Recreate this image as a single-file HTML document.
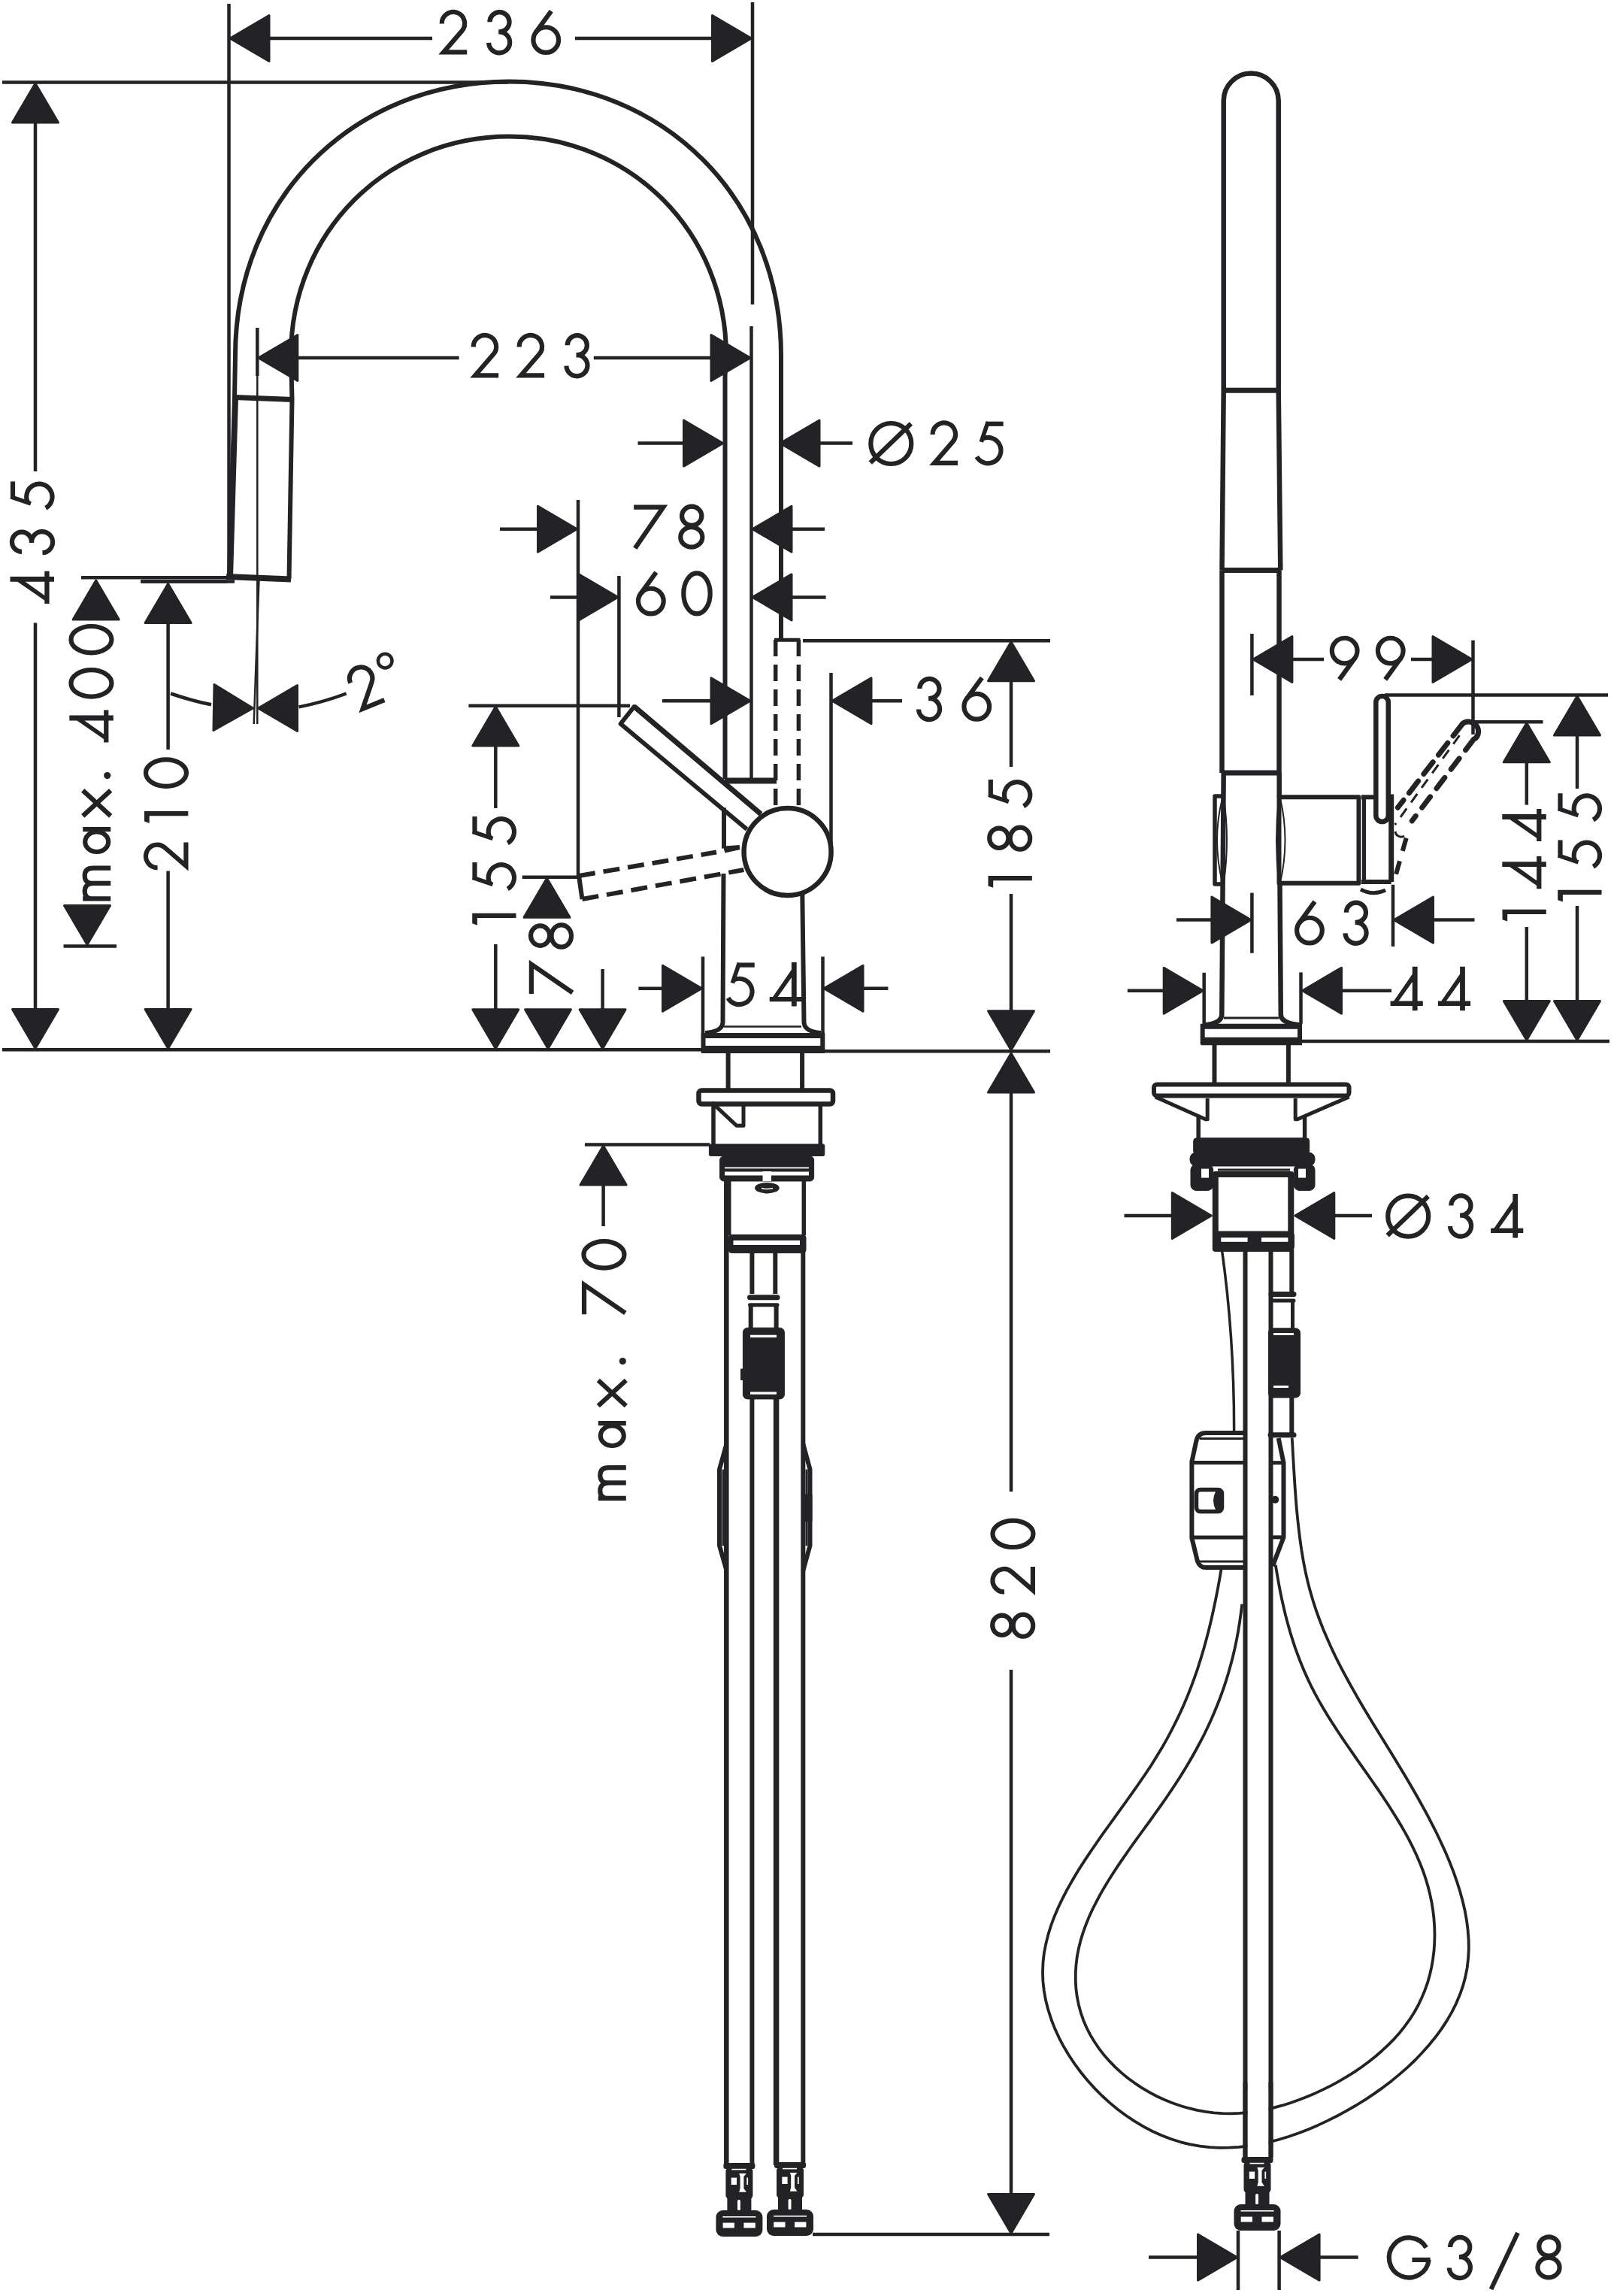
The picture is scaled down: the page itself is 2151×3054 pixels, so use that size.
<!DOCTYPE html>
<html><head><meta charset="utf-8"><style>
html,body{margin:0;padding:0;background:#fff;}
svg{display:block;}
.t{fill:#232326;stroke:#232326;stroke-width:6.2;stroke-linecap:butt;stroke-linejoin:round;}
text{font-family:"Liberation Sans",sans-serif;fill:#232326;text-anchor:middle;stroke:none;}
</style></head><body>
<svg xmlns="http://www.w3.org/2000/svg" width="2151" height="3054" viewBox="0 0 2151 3054">
<defs>
<g id="d0"><ellipse cx="20.65" cy="-29.35" rx="17.7" ry="27" fill="none"/></g>
<g id="d1"><path d="M12.75,0 V-58.3" fill="none"/><path d="M0,-51.6 L2.4,-58.3 L9.8,-58.3 L9.8,-51.6 Z" stroke="none"/></g>
<g id="d2"><path d="M4.15,-40.75 A15.2,15.2 0 1 1 30.67,-30.96 L6.46,-2.9 L37.6,-2.9" fill="none" stroke-linejoin="miter"/></g>
<g id="d3"><path d="M5.1,-43 A13.1,13.1 0 1 1 18.2,-29.9 L16.9,-29.9 M16.9,-30 L17.85,-30 A14.05,14.05 0 1 1 3.8,-15.5" fill="none"/></g>
<g id="d4"><path d="M29.2,-58.5 H36 V0 H29.2 Z M0,-12.7 H43.2 V-6.4 H0 Z M36,-58.5 L29.2,-38.4 L11,-12.7 L0,-6.4 Z" stroke="none"/></g>
<g id="d5"><path d="M15.6,-55 H38.7" fill="none"/><path d="M18.3,-57.6 L9.3,-31" fill="none" stroke-width="5.6"/><path d="M10.83,-35.06 A17.15,17.15 0 1 1 3.41,-11.23" fill="none"/></g>
<g id="d6"><circle cx="20.1" cy="-19.2" r="16.85" fill="none"/><path d="M27.1,-57.5 L6.3,-28.9" fill="none"/></g>
<g id="d9"><circle cx="20.4" cy="-39.9" r="16.85" fill="none"/><path d="M13.4,-1.6 L34.2,-30.2" fill="none"/></g>
<g id="d7"><path d="M1,-55.75 L40.2,-55.75 L2.6,-1" fill="none" stroke-linejoin="miter"/></g>
<g id="d8"><ellipse cx="18" cy="-44" rx="13.2" ry="12.6" fill="none"/><ellipse cx="17.6" cy="-15.85" rx="14.55" ry="13.25" fill="none"/></g>
<g id="dOs"><circle cx="30" cy="-28.8" r="27" fill="none"/><path d="M2.5,-3.3 L56.6,-55.2" fill="none"/></g>
<g id="dG"><path d="M52.18,-42.37 A26.5,26.5 0 1 0 55.65,-26.23" fill="none"/><path d="M57.6,-26.1 H33.4" fill="none"/></g>
<g id="lm"><path d="M3,0 V-37 M3,-23 C3,-32 7,-34.5 13.2,-34.5 C19.5,-34.5 23.5,-31 23.5,-23 V0 M23.5,-23 C23.5,-32 27.5,-34.5 33.7,-34.5 C40,-34.5 43.9,-31 43.9,-23 V0" fill="none"/></g>
<g id="la"><ellipse cx="16.3" cy="-18.5" rx="13.3" ry="15.5" fill="none"/><path d="M32.8,-37 V0" fill="none"/></g>
<g id="lx"><path d="M1.5,-37 L35.5,0 M35.5,-37 L1.5,0" fill="none"/></g>
<g id="ldot"><circle cx="4.5" cy="-4.5" r="4.6" stroke="none"/></g>
<path id="ar" d="M-1.5,0 L-53.5,-30.5 L-53.5,30.5 Z" fill="#232326" stroke="#232326" stroke-width="3" stroke-linejoin="round"/>
<g id="fit" stroke="none">
<rect x="-21" y="0" width="42" height="8" rx="3" fill="#232326"/>
<rect x="-18" y="6" width="36" height="42" rx="5" fill="#232326"/>
<rect x="-10" y="7.8" width="19" height="1.6" fill="#fff"/>
<rect x="-10.7" y="19.6" width="7.3" height="9.4" fill="#fff"/>
<path d="M-0.2,14 L9.5,14 L6,18 L6,34 L9.5,38.8 L-0.2,38.8 L1.2,34 L1.2,18 Z" fill="#fff"/>
<rect x="9.9" y="19.6" width="1.8" height="9.4" fill="#fff"/>
<rect x="-16" y="46" width="32" height="19" fill="#232326"/>
<rect x="-2.4" y="49" width="3.9" height="14" rx="1.5" fill="#fff"/>
<rect x="-31" y="63" width="62" height="35" rx="9" fill="#232326"/>
<rect x="-21.8" y="79.6" width="15.3" height="6.9" fill="#fff"/>
<rect x="6" y="79.6" width="15.4" height="6.9" fill="#fff"/>
<rect x="-22" y="71" width="44" height="1.6" fill="#fff"/>
</g>
</defs>
<rect width="2151" height="3054" fill="#fff"/>
<g stroke="#232326" fill="none" stroke-linecap="butt" stroke-linejoin="round">
<line x1="3" y1="1396.3" x2="933" y2="1396.3" stroke-width="4.5" />
<line x1="1097" y1="1398.3" x2="1397" y2="1398.3" stroke-width="4.5" />
<line x1="3" y1="109.5" x2="676" y2="109.5" stroke-width="4.5" />
<line x1="304.5" y1="5" x2="304.5" y2="766" stroke-width="4.5" />
<line x1="1001" y1="3" x2="1001" y2="405" stroke-width="4.5" />
<use href="#ar" transform="translate(304.5,51) rotate(180)"/>
<use href="#ar" transform="translate(1001,51) rotate(0)"/>
<line x1="357" y1="51" x2="575" y2="51" stroke-width="4.5" />
<line x1="765" y1="51" x2="949" y2="51" stroke-width="4.5" />
<use href="#d2" x="583.60" y="72.3" class="t"/>
<use href="#d3" x="646.30" y="72.3" class="t"/>
<use href="#d6" x="706.15" y="72.3" class="t"/>
<use href="#ar" transform="translate(47,109.5) rotate(-90)"/>
<use href="#ar" transform="translate(47,1396) rotate(90)"/>
<line x1="47" y1="162" x2="47" y2="627" stroke-width="4.5" />
<line x1="47" y1="828.6" x2="47" y2="1343" stroke-width="4.5" />
<g transform="rotate(-90)"><use href="#d4" x="-803.00" y="72" class="t"/><use href="#d3" x="-739.00" y="72" class="t"/><use href="#d5" x="-679.15" y="72" class="t"/></g>
<line x1="108" y1="768.3" x2="302" y2="768.3" stroke-width="4.5" />
<use href="#ar" transform="translate(127.7,770.6) rotate(-90)"/>
<g transform="rotate(-90)"><use href="#lm" x="-1198.45" y="147.2" class="t"/><use href="#la" x="-1136.00" y="147.2" class="t"/><use href="#lx" x="-1086.90" y="147.2" class="t"/><use href="#ldot" x="-1036.10" y="147.2" class="t"/></g>
<g transform="rotate(-90)"><use href="#d4" x="-987.60" y="150.8" class="t"/><use href="#d0" x="-929.55" y="150.8" class="t"/><use href="#d0" x="-871.35" y="150.8" class="t"/></g>
<use href="#ar" transform="translate(116,1258) rotate(90)"/>
<line x1="84.5" y1="1258.5" x2="155" y2="1258.5" stroke-width="4.5" />
<line x1="187" y1="773.5" x2="312" y2="773.5" stroke-width="4.5" />
<use href="#ar" transform="translate(223.6,775) rotate(-90)"/>
<use href="#ar" transform="translate(223.6,1396) rotate(90)"/>
<line x1="223.6" y1="826" x2="223.6" y2="997" stroke-width="4.5" />
<line x1="223.6" y1="1158.5" x2="223.6" y2="1343" stroke-width="4.5" />
<g transform="rotate(-90)"><use href="#d2" x="-1158.20" y="250.3" class="t"/><use href="#d1" x="-1094.90" y="250.3" class="t"/><use href="#d0" x="-1048.75" y="250.3" class="t"/></g>
<path d="M227,922.5 Q255,932 281,937.3" stroke-width="4.5" fill="none" />
<path d="M397.6,940.4 Q430,934 460.7,922.5" stroke-width="4.5" fill="none" />
<use href="#ar" transform="translate(338,942) rotate(1)"/>
<use href="#ar" transform="translate(342,942) rotate(180)"/>
<line x1="342.3" y1="436" x2="342.3" y2="963" stroke-width="2.5" />
<line x1="344.5" y1="770" x2="337.7" y2="963" stroke-width="2.5" />
<g transform="translate(484,913.5) rotate(-22) translate(-18.8,29.5)"><use href="#d2" class="t"/></g>
<circle cx="512.2" cy="879.1" r="9.3" stroke-width="4.5"/>
<line x1="342.3" y1="436" x2="342.3" y2="500" stroke-width="4.5" />
<use href="#ar" transform="translate(342.3,476) rotate(180)"/>
<use href="#ar" transform="translate(999.5,476) rotate(0)"/>
<line x1="394.7" y1="476" x2="610.6" y2="476" stroke-width="4.5" />
<line x1="789.8" y1="476" x2="947" y2="476" stroke-width="4.5" />
<use href="#d2" x="625.60" y="502.2" class="t"/>
<use href="#d2" x="686.50" y="502.2" class="t"/>
<use href="#d3" x="749.60" y="502.2" class="t"/>
<line x1="999.5" y1="434" x2="999.5" y2="1036" stroke-width="4.5" />
<use href="#ar" transform="translate(963,589.6) rotate(0)"/>
<use href="#ar" transform="translate(1036.5,589.6) rotate(180)"/>
<line x1="848.5" y1="589.6" x2="911" y2="589.6" stroke-width="4.5" />
<line x1="1088" y1="589.6" x2="1134" y2="589.6" stroke-width="4.5" />
<use href="#dOs" x="1155.30" y="618.8" class="t"/>
<use href="#d2" x="1236.50" y="618.8" class="t"/>
<use href="#d5" x="1295.95" y="618.8" class="t"/>
<line x1="769" y1="665" x2="769" y2="1165" stroke-width="4.5" />
<use href="#ar" transform="translate(769,703.8) rotate(0)"/>
<use href="#ar" transform="translate(999.5,703.8) rotate(180)"/>
<line x1="665" y1="703.8" x2="716" y2="703.8" stroke-width="4.5" />
<line x1="1051" y1="703.8" x2="1097" y2="703.8" stroke-width="4.5" />
<use href="#d7" x="842.15" y="730.3" class="t"/>
<use href="#d8" x="902.20" y="730.3" class="t"/>
<line x1="823.4" y1="766" x2="823.4" y2="954" stroke-width="4.5" />
<use href="#ar" transform="translate(823.4,794.4) rotate(0)"/>
<use href="#ar" transform="translate(999.5,794.4) rotate(180)"/>
<line x1="732" y1="794.4" x2="770" y2="794.4" stroke-width="4.5" />
<line x1="1052" y1="794.4" x2="1098.6" y2="794.4" stroke-width="4.5" />
<use href="#d6" x="845.75" y="818.8" class="t"/>
<use href="#d0" x="906.35" y="818.8" class="t"/>
<line x1="1105.5" y1="895" x2="1105.5" y2="1128" stroke-width="4.5" />
<use href="#ar" transform="translate(999.5,932.3) rotate(0)"/>
<use href="#ar" transform="translate(1105.5,932.3) rotate(180)"/>
<line x1="881" y1="932.3" x2="949" y2="932.3" stroke-width="4.5" />
<line x1="1158" y1="932.3" x2="1200" y2="932.3" stroke-width="4.5" />
<use href="#d3" x="1218.20" y="959" class="t"/>
<use href="#d6" x="1279.15" y="959" class="t"/>
<line x1="1068" y1="852.3" x2="1397" y2="852.3" stroke-width="4.5" />
<use href="#ar" transform="translate(1345,852.3) rotate(-90)"/>
<use href="#ar" transform="translate(1345,1398.3) rotate(90)"/>
<line x1="1345" y1="903.5" x2="1345" y2="1020" stroke-width="4.5" />
<line x1="1345" y1="1189" x2="1345" y2="1346" stroke-width="4.5" />
<g transform="rotate(-90)"><use href="#d1" x="-1180.80" y="1372.8" class="t"/><use href="#d8" x="-1132.80" y="1372.8" class="t"/><use href="#d5" x="-1075.65" y="1372.8" class="t"/></g>
<line x1="623.4" y1="938.8" x2="838" y2="938.8" stroke-width="4.5" />
<use href="#ar" transform="translate(659.3,938.5) rotate(-90)"/>
<use href="#ar" transform="translate(659.3,1396.3) rotate(90)"/>
<line x1="659.3" y1="990" x2="659.3" y2="1075" stroke-width="4.5" />
<line x1="659.3" y1="1256" x2="659.3" y2="1344" stroke-width="4.5" />
<g transform="rotate(-90)"><use href="#d1" x="-1230.70" y="686.5" class="t"/><use href="#d5" x="-1185.75" y="686.5" class="t"/><use href="#d5" x="-1124.75" y="686.5" class="t"/></g>
<line x1="694.7" y1="1166.8" x2="769" y2="1166.8" stroke-width="4.5" />
<use href="#ar" transform="translate(727.5,1166.8) rotate(-90)"/>
<use href="#ar" transform="translate(729,1396.3) rotate(90)"/>
<g transform="rotate(-90)"><use href="#d7" x="-1322.95" y="762.6" class="t"/><use href="#d8" x="-1262.60" y="762.6" class="t"/></g>
<line x1="778" y1="1522.6" x2="944" y2="1522.6" stroke-width="4.5" />
<use href="#ar" transform="translate(801.6,1396.3) rotate(90)"/>
<line x1="801.6" y1="1289" x2="801.6" y2="1345" stroke-width="4.5" />
<use href="#ar" transform="translate(802.6,1522.6) rotate(-90)"/>
<line x1="802.6" y1="1577" x2="802.6" y2="1631" stroke-width="4.5" />
<g transform="rotate(-90)"><use href="#lm" x="-1995.95" y="832.8" class="t"/><use href="#la" x="-1926.00" y="832.8" class="t"/><use href="#lx" x="-1871.50" y="832.8" class="t"/><use href="#ldot" x="-1815.00" y="832.8" class="t"/></g>
<g transform="rotate(-90)"><use href="#d7" x="-1749.15" y="832.8" class="t"/><use href="#d0" x="-1689.55" y="832.8" class="t"/></g>
<line x1="935" y1="1272.5" x2="935" y2="1374" stroke-width="4.5" />
<line x1="1094.5" y1="1272.5" x2="1094.5" y2="1374" stroke-width="4.5" />
<use href="#ar" transform="translate(935,1314.8) rotate(0)"/>
<use href="#ar" transform="translate(1094.5,1314.8) rotate(180)"/>
<line x1="849.4" y1="1314.8" x2="880" y2="1314.8" stroke-width="4.5" />
<line x1="1146" y1="1314.8" x2="1181.4" y2="1314.8" stroke-width="4.5" />
<use href="#d5" x="965.05" y="1338.6" class="t"/>
<use href="#d4" x="1023.70" y="1338.6" class="t"/>
<use href="#ar" transform="translate(1345,1399.5) rotate(-90)"/>
<use href="#ar" transform="translate(1345,2972) rotate(90)"/>
<line x1="1345" y1="1452" x2="1345" y2="1984" stroke-width="4.5" />
<line x1="1345" y1="2221" x2="1345" y2="2919" stroke-width="4.5" />
<line x1="1081" y1="2972" x2="1396" y2="2972" stroke-width="4.5" />
<g transform="rotate(-90)"><use href="#d8" x="-2179.80" y="1376.8" class="t"/><use href="#d2" x="-2121.60" y="1376.8" class="t"/><use href="#d0" x="-2060.95" y="1376.8" class="t"/></g>
<line x1="1730" y1="1385" x2="2141" y2="1385" stroke-width="4.5" />
<line x1="1665.4" y1="843" x2="1665.4" y2="925" stroke-width="4.5" />
<line x1="1959.5" y1="851.7" x2="1959.5" y2="977" stroke-width="4.5" />
<use href="#ar" transform="translate(1665.4,877) rotate(180)"/>
<use href="#ar" transform="translate(1959.5,877) rotate(0)"/>
<line x1="1718" y1="877" x2="1761" y2="877" stroke-width="4.5" />
<line x1="1877" y1="877" x2="1907.3" y2="877" stroke-width="4.5" />
<use href="#d9" x="1768.25" y="905.5" class="t"/>
<use href="#d9" x="1829.35" y="905.5" class="t"/>
<line x1="1842" y1="924.6" x2="2139" y2="924.6" stroke-width="4.5" />
<use href="#ar" transform="translate(2098,924.6) rotate(-90)"/>
<use href="#ar" transform="translate(2098,1385) rotate(90)"/>
<line x1="2098" y1="977" x2="2098" y2="1049" stroke-width="4.5" />
<line x1="2098" y1="1205" x2="2098" y2="1333" stroke-width="4.5" />
<g transform="rotate(-90)"><use href="#d1" x="-1199.60" y="2130.5" class="t"/><use href="#d5" x="-1156.15" y="2130.5" class="t"/><use href="#d5" x="-1093.95" y="2130.5" class="t"/></g>
<line x1="1959" y1="960.3" x2="2052.5" y2="960.3" stroke-width="4.5" />
<use href="#ar" transform="translate(2030.8,960.3) rotate(-90)"/>
<use href="#ar" transform="translate(2030.8,1385) rotate(90)"/>
<line x1="2030.8" y1="1012" x2="2030.8" y2="1070.6" stroke-width="4.5" />
<line x1="2030.8" y1="1233" x2="2030.8" y2="1333" stroke-width="4.5" />
<g transform="rotate(-90)"><use href="#d1" x="-1225.60" y="2056.8" class="t"/><use href="#d4" x="-1182.20" y="2056.8" class="t"/><use href="#d4" x="-1119.10" y="2056.8" class="t"/></g>
<line x1="1665.4" y1="1187.6" x2="1665.4" y2="1267.8" stroke-width="4.5" />
<line x1="1853" y1="1176.8" x2="1853" y2="1259" stroke-width="4.5" />
<use href="#ar" transform="translate(1665.4,1223.6) rotate(0)"/>
<use href="#ar" transform="translate(1853,1223.6) rotate(180)"/>
<line x1="1565" y1="1223.6" x2="1614" y2="1223.6" stroke-width="4.5" />
<line x1="1907" y1="1223.6" x2="1961.5" y2="1223.6" stroke-width="4.5" />
<use href="#d6" x="1721.85" y="1256.8" class="t"/>
<use href="#d3" x="1785.70" y="1256.8" class="t"/>
<line x1="1601.7" y1="1293.8" x2="1601.7" y2="1363" stroke-width="4.5" />
<use href="#ar" transform="translate(1601.7,1317.7) rotate(0)"/>
<use href="#ar" transform="translate(1731,1317.7) rotate(180)"/>
<line x1="1499.8" y1="1317.7" x2="1550" y2="1317.7" stroke-width="4.5" />
<line x1="1783" y1="1317.7" x2="1851" y2="1317.7" stroke-width="4.5" />
<use href="#d4" x="1849.60" y="1344.3" class="t"/>
<use href="#d4" x="1912.90" y="1344.3" class="t"/>
<use href="#ar" transform="translate(1612.8,1617) rotate(0)"/>
<use href="#ar" transform="translate(1721.3,1617) rotate(180)"/>
<line x1="1495.5" y1="1617" x2="1562" y2="1617" stroke-width="4.5" />
<line x1="1772" y1="1617" x2="1825" y2="1617" stroke-width="4.5" />
<use href="#dOs" x="1843.20" y="1646.5" class="t"/>
<use href="#d3" x="1925.20" y="1646.5" class="t"/>
<use href="#d4" x="1983.10" y="1646.5" class="t"/>
<line x1="1647" y1="2967" x2="1647" y2="3046" stroke-width="4.5" />
<line x1="1701.6" y1="2967" x2="1701.6" y2="3046" stroke-width="4.5" />
<use href="#ar" transform="translate(1647,3002.6) rotate(0)"/>
<use href="#ar" transform="translate(1701.6,3002.6) rotate(180)"/>
<line x1="1528" y1="3002.6" x2="1595" y2="3002.6" stroke-width="4.5" />
<line x1="1754" y1="3002.6" x2="1806.7" y2="3002.6" stroke-width="4.5" />
<use href="#dG" x="1845.00" y="3032" class="t"/>
<use href="#d3" x="1924.00" y="3032" class="t"/>
<use href="#d8" x="2042.40" y="3032" class="t"/>
<line x1="2019" y1="2970" x2="1983.5" y2="3045" stroke-width="6" />
<path d="M312,529 L313,472.5 C313,265 469.5,108.5 677,108.5 C883.3,108.5 1039,265 1039,472.5 L1039,851" stroke-width="6" fill="none" />
<path d="M388.5,531 L387,472.5 C387,309.6 514.8,181.6 677.5,181.6 C839.1,181.6 966,309.6 966,472.5" stroke-width="6" fill="none" />
<path d="M966,472.5 L964.5,500 L964.5,1036" stroke-width="6" fill="none" />
<line x1="312" y1="528.5" x2="389" y2="531.5" stroke-width="7" />
<line x1="313" y1="529" x2="306" y2="767" stroke-width="8" />
<line x1="388.5" y1="531" x2="384.5" y2="770" stroke-width="6" />
<line x1="301" y1="767" x2="387" y2="770.5" stroke-width="8" />
<line x1="188" y1="773.5" x2="302" y2="773.5" stroke-width="4.5" />
<line x1="964" y1="1038.5" x2="1033" y2="1038.5" stroke-width="8" />
<line x1="1030" y1="851.3" x2="1064.5" y2="851.3" stroke-width="5" />
<line x1="1031.7" y1="851" x2="1031.7" y2="1072" stroke-width="5.5" stroke-dasharray="22 11"/>
<line x1="1062.4" y1="851" x2="1062.4" y2="1072" stroke-width="5.5" stroke-dasharray="22 11"/>
<path d="M1012,1083 L843.5,940 L825.5,962.8 L993.5,1103" stroke-width="5.8" fill="none" />
<line x1="843.5" y1="939.6" x2="1012" y2="1082.6" stroke-width="7" />
<line x1="770" y1="1165" x2="953" y2="1133.5" stroke-width="6" stroke-dasharray="22 11"/>
<line x1="963.8" y1="1131.6" x2="983.8" y2="1127.1" stroke-width="6" />
<line x1="774.5" y1="1196" x2="989.4" y2="1157" stroke-width="6" stroke-dasharray="22 11"/>
<line x1="770" y1="1165" x2="774.5" y2="1196" stroke-width="6" />
<circle cx="1047.6" cy="1133" r="58" stroke-width="6.5" fill="#fff"/>
<path d="M1020,1081 A64,64 0 0 1 1040,1074" stroke-width="2" fill="none" />
<line x1="963" y1="1074.5" x2="963" y2="1128.6" stroke-width="6" />
<line x1="963" y1="1128.6" x2="983.8" y2="1127" stroke-width="6" />
<path d="M962.5,1162 L961.5,1360 Q961,1372 938,1374" stroke-width="6" fill="none" />
<path d="M1067.3,1189 L1069.5,1360 Q1070,1372 1092,1374" stroke-width="6" fill="none" />
<line x1="963" y1="1365.6" x2="1066" y2="1365.6" stroke-width="2.5" />
<line x1="933" y1="1377.5" x2="1097" y2="1377.5" stroke-width="7" />
<line x1="935.5" y1="1374" x2="935.5" y2="1400" stroke-width="6" />
<line x1="1094.3" y1="1374" x2="1094.3" y2="1400" stroke-width="6" />
<line x1="933" y1="1396" x2="1097" y2="1396" stroke-width="10" />
<line x1="968.6" y1="1401" x2="968.6" y2="1449" stroke-width="6" />
<line x1="1067.1" y1="1401" x2="1067.1" y2="1449" stroke-width="6" />
<rect x="929.5" y="1450.5" width="178.5" height="18" rx="4" stroke-width="6.5"/>
<line x1="949" y1="1471" x2="949" y2="1522" stroke-width="5.5" />
<line x1="1091.3" y1="1471" x2="1091.3" y2="1522" stroke-width="5.5" />
<polyline points="947,1466.6 979.7,1497.2 989,1497.2 989,1468.7" stroke-width="5" fill="none" />
<line x1="992" y1="1469.7" x2="1088" y2="1469.7" stroke-width="2" />
<rect x="943.4" y="1522" width="153.4" height="15.5" rx="2" fill="#232326"/>
<rect x="957.6" y="1538" width="125" height="33" rx="5" fill="#232326"/>
<rect x="964" y="1552.5" width="112" height="1.8" fill="#fff" stroke="none"/>
<rect x="964" y="1558.5" width="112" height="5" fill="#fff" stroke="none"/>
<rect x="1014.5" y="1558" width="11.5" height="13" fill="#fff" stroke="none"/>
<ellipse cx="1020.4" cy="1580.2" rx="16.3" ry="7.2" fill="#232326" stroke="none"/>
<path d="M1013,1580.5 Q1020,1582.5 1028,1580.5" stroke="#fff" stroke-width="1.5"/>
<line x1="968.5" y1="1571" x2="968.5" y2="1643" stroke-width="8" />
<line x1="1069.3" y1="1571" x2="1069.3" y2="1643" stroke-width="5.5" />
<rect x="969.4" y="1642.4" width="102.6" height="24.2" rx="4" fill="#232326"/>
<rect x="975.5" y="1650" width="88.5" height="6" fill="#fff" stroke="none"/>
<line x1="966.3" y1="1571" x2="966.3" y2="2880" stroke-width="6.5" />
<line x1="1068.3" y1="1666" x2="1068.3" y2="2880" stroke-width="6" />
<line x1="1000.4" y1="1666" x2="1000.4" y2="1721" stroke-width="6" />
<line x1="1031.3" y1="1666" x2="1031.3" y2="1721" stroke-width="6" />
<line x1="998.7" y1="1738" x2="998.7" y2="1767" stroke-width="6" />
<line x1="1032.6" y1="1738" x2="1032.6" y2="1767" stroke-width="6" />
<line x1="997.5" y1="1725.8" x2="1034" y2="1725.8" stroke-width="7" stroke-linecap="round"/>
<line x1="997.5" y1="1735.8" x2="1034" y2="1735.8" stroke-width="5" stroke-linecap="round"/>
<rect x="988.4" y="1766.2" width="55" height="94.7" rx="6" fill="#232326"/>
<rect x="998" y="1775.7" width="35" height="3.3" fill="#fff" stroke="none"/>
<rect x="998" y="1851.4" width="35" height="3.3" fill="#fff" stroke="none"/>
<rect x="985.5" y="1821" width="4" height="14.5" fill="#232326"/>
<line x1="1000.4" y1="1861" x2="1000.4" y2="2880" stroke-width="6" />
<line x1="1032.6" y1="1861" x2="1032.6" y2="2880" stroke-width="7.5" />
<polyline points="966.5,1920.6 957,1954.5 957,2055.8 966.5,2089.2" stroke-width="6" fill="none" />
<polyline points="1068.3,1920.6 1077.5,1954.5 1077.5,2055.8 1068.3,2089.2" stroke-width="6" fill="none" />
<line x1="962" y1="1954.5" x2="962" y2="2056" stroke-width="3" />
<line x1="1073" y1="1954.5" x2="1073" y2="2056" stroke-width="3" />
<rect x="1071" y="1988" width="9" height="35.6" fill="#232326"/>
<use href="#fit" transform="translate(983.4,2877)"/>
<use href="#fit" transform="translate(1051,2876)"/>
<path d="M1627.7,519 L1627.7,134 A36.5,36.5 0 0 1 1700.7,134 L1700.7,519" stroke-width="6.5" fill="none" />
<line x1="1627.7" y1="519.3" x2="1700.7" y2="519.3" stroke-width="7" />
<line x1="1627.7" y1="519" x2="1625.5" y2="758.5" stroke-width="6.5" />
<line x1="1700.7" y1="519" x2="1703.3" y2="758.5" stroke-width="6.5" />
<line x1="1625.5" y1="758.5" x2="1703.3" y2="758.5" stroke-width="7" />
<line x1="1625.5" y1="758.5" x2="1625.5" y2="1028" stroke-width="6.5" />
<line x1="1701.5" y1="758.5" x2="1701.5" y2="1028" stroke-width="6.5" />
<line x1="1625.5" y1="1028" x2="1701.5" y2="1028" stroke-width="7" />
<path d="M1627.7,1028 L1625.3,1350 Q1624.5,1361 1603.4,1363.5" stroke-width="6.5" fill="none" />
<line x1="1701.7" y1="1028" x2="1701.7" y2="1060" stroke-width="6.5" />
<path d="M1702.5,1175 L1703.8,1350 Q1704.5,1361 1729.2,1363.5" stroke-width="6.5" fill="none" />
<line x1="1627.9" y1="1354" x2="1701.3" y2="1354" stroke-width="3" />
<line x1="1730.5" y1="1293.4" x2="1730.5" y2="1362" stroke-width="4.5" />
<rect x="1701.5" y="1060.3" width="106" height="114.5" stroke-width="6"/>
<line x1="1814.5" y1="1060.3" x2="1814.5" y2="1173" stroke-width="5" />
<line x1="1811" y1="1060.3" x2="1830" y2="1060.3" stroke-width="6" />
<line x1="1850.7" y1="1056.5" x2="1850.7" y2="1173" stroke-width="7" />
<line x1="1811" y1="1173" x2="1850.7" y2="1173" stroke-width="6" />
<polyline points="1627.7,1059 1616,1059 1616,1176 1627.7,1176" stroke-width="5.5" fill="none" />
<path d="M1626,1062 Q1612,1117 1626,1174" stroke-width="2" fill="none" />
<path d="M1628,1062 Q1636,1117 1628,1174" stroke-width="2" fill="none" />
<path d="M1703,1062 Q1716,1117 1703,1174" stroke-width="2" fill="none" />
<path d="M1701,1062 Q1695,1117 1701,1174" stroke-width="2" fill="none" />
<rect x="1830.3" y="926" width="16.5" height="167" rx="8.2" stroke-width="6.5" fill="#fff"/>
<line x1="1945.3" y1="963" x2="1859.4" y2="1074.2" stroke-width="7" stroke-dasharray="20 12" stroke-linecap="round"/>
<line x1="1960.4" y1="983.3" x2="1878.3" y2="1091.9" stroke-width="7" stroke-dasharray="18 14" stroke-linecap="round"/>
<line x1="1941.5" y1="978.2" x2="1855.6" y2="1097" stroke-width="3" stroke-dasharray="14 10"/>
<path d="M1945,963 A13,13 0 0 1 1962,983" stroke-width="7" fill="none" />
<path d="M1870.7,1114.6 L1855,1170" stroke-width="6" fill="none" stroke-dasharray="18 14"/>
<path d="M1856,1106 A8,8 0 0 0 1868,1112" stroke-width="3" fill="none" />
<path d="M1810,1183 Q1826,1192 1843,1184" stroke-width="5" fill="none" />
<line x1="1597.4" y1="1365.2" x2="1732" y2="1365.2" stroke-width="7" />
<line x1="1599.7" y1="1362" x2="1599.7" y2="1389" stroke-width="6" />
<line x1="1729" y1="1362" x2="1729" y2="1389" stroke-width="6" />
<line x1="1597.4" y1="1385" x2="1732" y2="1385" stroke-width="10.5" />
<line x1="1615.5" y1="1390" x2="1615.5" y2="1441" stroke-width="6" />
<line x1="1713.9" y1="1390" x2="1713.9" y2="1441" stroke-width="6" />
<rect x="1535" y="1442.4" width="259.5" height="15.2" rx="4" stroke-width="6"/>
<polyline points="1536.7,1459 1603.5,1488.7 1606.2,1488.7 1606.2,1461" stroke-width="5" fill="none" />
<polyline points="1794.6,1459 1726,1488.7 1723.2,1488.7 1723.2,1461" stroke-width="5" fill="none" />
<line x1="1594.2" y1="1485" x2="1594.2" y2="1515" stroke-width="5.5" />
<line x1="1735.6" y1="1485" x2="1735.6" y2="1515" stroke-width="5.5" />
<rect x="1587.7" y="1513.8" width="154" height="21.2" rx="4" fill="#232326"/>
<rect x="1583" y="1533" width="166" height="18" rx="8" fill="#232326"/>
<rect x="1584" y="1549" width="29.7" height="34.4" rx="7" fill="#232326"/>
<rect x="1721.3" y="1549" width="27.7" height="34.4" rx="7" fill="#232326"/>
<rect x="1598" y="1554.6" width="10" height="12" fill="#fff" stroke="none"/>
<rect x="1727" y="1554.6" width="10" height="12" fill="#fff" stroke="none"/>
<line x1="1620" y1="1556" x2="1716" y2="1556" stroke-width="3" />
<rect x="1616.8" y="1562" width="100.5" height="99" stroke-width="8"/>
<rect x="1614.4" y="1638" width="107" height="25" rx="5" fill="#232326"/>
<rect x="1624.3" y="1646.2" width="35.3" height="5.6" fill="#fff" stroke="none"/>
<rect x="1678" y="1646.2" width="35.4" height="5.6" fill="#fff" stroke="none"/>
<line x1="1656.5" y1="1663" x2="1656.5" y2="2870" stroke-width="6" />
<line x1="1690.5" y1="1663" x2="1690.5" y2="2870" stroke-width="6" />
<line x1="1718.3" y1="1663" x2="1718.3" y2="1719" stroke-width="6" />
<path d="M1625.5,1663 Q1642,1780 1641.6,1907" stroke-width="3.5" fill="none" />
<line x1="1691" y1="1721.5" x2="1721" y2="1721.5" stroke-width="7" stroke-linecap="round"/>
<line x1="1691" y1="1730" x2="1721" y2="1730" stroke-width="5" stroke-linecap="round"/>
<line x1="1719.5" y1="1731" x2="1719.5" y2="1767" stroke-width="5" />
<rect x="1687.4" y="1766.8" width="42.1" height="92.2" rx="6" fill="#232326"/>
<rect x="1694" y="1773" width="27" height="3" fill="#fff" stroke="none"/>
<rect x="1694" y="1843" width="20" height="3" fill="#fff" stroke="none"/>
<line x1="1718.3" y1="1859" x2="1718.3" y2="1908" stroke-width="6" />
<line x1="1690" y1="1908.7" x2="1721" y2="1908.7" stroke-width="7" stroke-linecap="round"/>
<polyline points="1700.7,1913 1707.5,1945.7 1707.5,2044.8 1693,2083" stroke-width="6" fill="none" />
<line x1="1690.5" y1="1945.7" x2="1707.5" y2="1945.7" stroke-width="5" />
<line x1="1690.5" y1="2044.8" x2="1707.5" y2="2044.8" stroke-width="5" />
<circle cx="1696.3" cy="1994.7" r="5" fill="#232326" stroke="none"/>
<path d="M1656.5,1906 L1604,1906 Q1594,1906 1591.5,1916 L1585.4,1944.3 L1585.4,2045.7 L1593,2076.7 Q1596,2085 1604,2085 L1656.5,2085" stroke-width="6" fill="none" />
<line x1="1596" y1="1913.4" x2="1656.5" y2="1913.4" stroke-width="3" />
<line x1="1585.4" y1="1945.6" x2="1656.5" y2="1945.6" stroke-width="5" />
<line x1="1585.4" y1="2045" x2="1656.5" y2="2045" stroke-width="5" />
<line x1="1596" y1="2077" x2="1656.5" y2="2077" stroke-width="3" />
<rect x="1591.5" y="1981.5" width="34" height="29" rx="5" stroke-width="5.5"/>
<path d="M1617,1984 Q1611,1996 1617,2008 L1623,2008 L1623,1984 Z" stroke-width="0" fill="#232326" />
<path d="M1625.0,2084.5 L1622.5,2099.2 L1619.9,2113.5 L1617.1,2127.6 L1614.2,2141.3 L1611.2,2154.8 L1608.0,2168.1 L1604.6,2181.1 L1601.1,2193.8 L1597.3,2206.4 L1593.4,2218.8 L1589.1,2231.1 L1584.7,2243.2 L1580.0,2255.1 L1575.0,2267.0 L1569.7,2278.7 L1564.1,2290.4 L1558.2,2302.0 L1552.0,2313.6 L1545.5,2325.1 L1538.5,2336.6 L1531.3,2348.2 L1523.6,2359.7 L1515.7,2371.3 L1507.6,2382.9 L1499.3,2394.5 L1490.9,2406.1 L1482.5,2417.8 L1474.1,2429.5 L1465.7,2441.2 L1457.5,2453.0 L1449.4,2464.8 L1441.6,2476.6 L1434.0,2488.5 L1426.9,2500.5 L1420.1,2512.4 L1413.8,2524.5 L1408.0,2536.6 L1402.8,2548.7 L1398.2,2560.9 L1394.4,2573.1 L1391.3,2585.5 L1388.9,2597.8 L1387.5,2610.3 L1387.0,2622.8 L1387.4,2635.4 L1388.8,2648.0 L1391.1,2660.7 L1394.3,2673.2 L1398.3,2685.7 L1403.1,2698.1 L1408.7,2710.3 L1415.0,2722.3 L1422.0,2734.0 L1429.6,2745.4 L1437.8,2756.5 L1446.6,2767.3 L1456.0,2777.6 L1465.8,2787.5 L1476.1,2796.9 L1486.8,2805.7 L1497.9,2814.0 L1509.4,2821.7 L1521.2,2828.7 L1533.2,2835.0 L1545.5,2840.5 L1557.9,2845.3 L1570.6,2849.3 L1583.3,2852.4 L1596.1,2854.7 L1609.1,2856.2 L1622.1,2856.8 L1635.2,2856.7 L1648.3,2855.9 L1661.4,2854.4 L1674.6,2852.2 L1687.7,2849.4 L1700.9,2846.0 L1714.0,2842.0 L1727.1,2837.5 L1740.1,2832.4 L1753.1,2826.9 L1765.9,2820.9 L1778.7,2814.5 L1791.3,2807.7 L1803.8,2800.5 L1816.1,2792.9 L1828.0,2784.9 L1839.7,2776.6 L1851.1,2767.9 L1862.0,2758.9 L1872.6,2749.6 L1882.7,2740.0 L1892.2,2730.0 L1901.3,2719.8 L1909.8,2709.3 L1917.6,2698.6 L1924.8,2687.6 L1931.3,2676.4 L1937.0,2665.0 L1941.9,2653.3 L1946.1,2641.5 L1949.3,2629.5 L1951.7,2617.3 L1953.1,2605.0 L1953.8,2592.5 L1953.6,2580.0 L1952.6,2567.3 L1951.0,2554.5 L1948.7,2541.7 L1945.7,2528.8 L1942.2,2515.9 L1938.1,2503.0 L1933.6,2490.1 L1928.6,2477.3 L1923.2,2464.4 L1917.4,2451.7 L1911.4,2439.0 L1905.0,2426.4 L1898.5,2413.9 L1891.8,2401.6 L1884.9,2389.3 L1878.0,2377.3 L1871.0,2365.3 L1863.9,2353.5 L1856.8,2341.8 L1849.6,2330.1 L1842.5,2318.5 L1835.4,2307.0 L1828.3,2295.5 L1821.3,2284.0 L1814.4,2272.5 L1807.6,2261.0 L1801.0,2249.4 L1794.5,2237.8 L1788.2,2226.2 L1782.0,2214.4 L1776.1,2202.6 L1770.5,2190.7 L1765.1,2178.6 L1759.9,2166.4 L1755.1,2154.0 L1750.6,2141.5 L1746.5,2128.8 L1742.7,2115.9 L1739.3,2102.7 L1736.3,2089.4 L1733.7,2075.8 L1731.4,2062.1 L1729.4,2048.3 L1727.7,2034.5 L1726.2,2020.6 L1724.8,2006.7 L1723.7,1992.8 L1722.7,1979.0 L1721.8,1965.3 L1721.0,1951.8 L1720.2,1938.5 L1719.5,1925.4 L1718.7,1912.5" stroke-width="3.8" fill="none" />
<path d="M1652.2,2133.7 L1650.7,2146.0 L1649.0,2158.1 L1647.1,2169.9 L1644.9,2181.5 L1642.5,2192.9 L1639.9,2204.0 L1637.0,2215.0 L1634.0,2225.8 L1630.7,2236.4 L1627.2,2246.8 L1623.5,2257.1 L1619.6,2267.3 L1615.5,2277.3 L1611.2,2287.2 L1606.7,2297.0 L1602.0,2306.8 L1597.0,2316.4 L1591.9,2326.0 L1586.6,2335.5 L1581.1,2345.0 L1575.4,2354.5 L1569.5,2363.9 L1563.5,2373.3 L1557.2,2382.8 L1550.8,2392.2 L1544.2,2401.7 L1537.4,2411.2 L1530.5,2420.8 L1523.5,2430.4 L1516.5,2440.0 L1509.5,2449.7 L1502.5,2459.5 L1495.7,2469.3 L1488.9,2479.1 L1482.4,2489.0 L1476.0,2499.0 L1469.9,2509.0 L1464.0,2519.1 L1458.6,2529.3 L1453.4,2539.5 L1448.7,2549.8 L1444.5,2560.1 L1440.7,2570.6 L1437.5,2581.1 L1434.9,2591.7 L1432.8,2602.4 L1431.5,2613.2 L1430.8,2624.0 L1430.8,2634.8 L1431.4,2645.6 L1432.8,2656.2 L1434.9,2666.7 L1437.7,2677.1 L1441.2,2687.2 L1445.4,2697.0 L1450.3,2706.6 L1455.8,2715.8 L1461.9,2724.8 L1468.6,2733.4 L1475.9,2741.7 L1483.6,2749.6 L1491.8,2757.1 L1500.4,2764.2 L1509.5,2770.8 L1518.9,2777.1 L1528.7,2782.9 L1538.7,2788.2 L1549.1,2793.0 L1559.6,2797.3 L1570.4,2801.0 L1581.4,2804.2 L1592.4,2806.8 L1603.6,2808.9 L1614.9,2810.3 L1626.2,2811.1 L1637.5,2811.3 L1648.9,2810.9 L1660.2,2809.9 L1671.5,2808.4 L1682.8,2806.3 L1694.0,2803.7 L1705.2,2800.7 L1716.3,2797.2 L1727.4,2793.3 L1738.4,2789.0 L1749.3,2784.4 L1760.1,2779.4 L1770.7,2774.1 L1781.2,2768.4 L1791.4,2762.4 L1801.5,2756.1 L1811.2,2749.5 L1820.7,2742.5 L1829.8,2735.3 L1838.5,2727.7 L1846.8,2719.9 L1854.8,2711.8 L1862.2,2703.4 L1869.1,2694.7 L1875.6,2685.7 L1881.4,2676.5 L1886.7,2667.0 L1891.3,2657.3 L1895.4,2647.4 L1899.0,2637.3 L1901.9,2627.0 L1904.3,2616.6 L1906.1,2606.0 L1907.5,2595.3 L1908.2,2584.6 L1908.5,2573.8 L1908.2,2563.0 L1907.5,2552.2 L1906.2,2541.3 L1904.5,2530.6 L1902.2,2519.8 L1899.6,2509.2 L1896.4,2498.6 L1892.8,2488.2 L1888.8,2477.9 L1884.4,2467.7 L1879.6,2457.6 L1874.6,2447.6 L1869.2,2437.6 L1863.5,2427.7 L1857.6,2417.9 L1851.5,2408.2 L1845.3,2398.5 L1838.8,2388.8 L1832.3,2379.1 L1825.6,2369.5 L1818.9,2359.9 L1812.2,2350.3 L1805.5,2340.8 L1798.8,2331.2 L1792.1,2321.5 L1785.5,2311.9 L1779.1,2302.2 L1772.8,2292.5 L1766.6,2282.8 L1760.7,2273.0 L1755.0,2263.1 L1749.5,2253.2 L1744.4,2243.2 L1739.6,2233.1 L1735.0,2222.9 L1730.7,2212.6 L1726.7,2202.2 L1722.9,2191.8 L1719.4,2181.2 L1716.1,2170.6 L1713.1,2159.8 L1710.2,2149.0 L1707.6,2138.0 L1705.1,2127.0 L1702.8,2115.8 L1700.7,2104.5 L1698.7,2093.1 L1696.8,2081.6" stroke-width="3.8" fill="none" />
<rect x="1659.6" y="2780" width="27.8" height="88" fill="#fff" stroke="none"/>
<line x1="1656.5" y1="2770" x2="1656.5" y2="2870" stroke-width="6" />
<line x1="1690.5" y1="2770" x2="1690.5" y2="2870" stroke-width="6" />
<use href="#fit" transform="translate(1672.5,2869)"/>
</g>
</svg>
</body></html>
